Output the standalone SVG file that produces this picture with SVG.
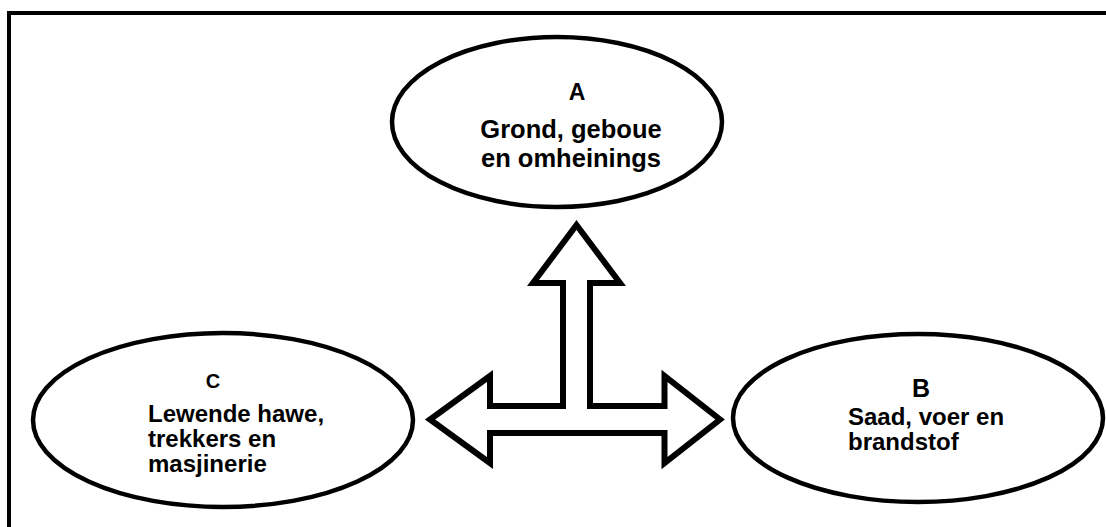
<svg xmlns="http://www.w3.org/2000/svg" width="1106" height="527" viewBox="0 0 1106 527">
<style>
.node ellipse{fill:#fff;stroke:#000;stroke-width:4.5}
.t{font-family:"Liberation Sans",Arial,sans-serif;font-weight:bold;fill:#000}
.lbl{font-size:24px}
.lblA{font-size:25.5px}
.key{text-anchor:middle}
</style>
<rect width="1106" height="527" fill="#fff"/>
<path d="M9,527 V13 H1106" fill="none" stroke="#000" stroke-width="4"/>
<g id="connectors">
<path d="M576.5,225 L620,283 L590,283 L590,406 L664.5,406 L664.5,376 L720,419.5 L664.5,463 L664.5,433 L490,433 L490,463 L430,419.5 L490,376 L490,406 L563,406 L563,283 L533,283 Z" fill="#fff" stroke="#000" stroke-width="6" stroke-linejoin="miter"/>
</g>
<g id="node-A" class="node">
<ellipse cx="557" cy="122" rx="165" ry="85"/>
<text class="t key" x="577" y="100" style="font-size:23px">A</text>
<text class="t key lblA" x="571" y="137.5">Grond, geboue</text>
<text class="t key lblA" x="571" y="167">en omheinings</text>
</g>
<g id="node-B" class="node">
<ellipse cx="918" cy="418" rx="185" ry="84"/>
<text class="t key" x="921" y="397" style="font-size:25px">B</text>
<text class="t lbl" x="848" y="425">Saad, voer en</text>
<text class="t lbl" x="848" y="450">brandstof</text>
</g>
<g id="node-C" class="node">
<ellipse cx="223" cy="420" rx="190" ry="87"/>
<text class="t key" x="213" y="388" style="font-size:20px">C</text>
<text class="t lbl" x="148" y="421.5">Lewende hawe,</text>
<text class="t lbl" x="148" y="447">trekkers en</text>
<text class="t lbl" x="148" y="472">masjinerie</text>
</g>
</svg>
